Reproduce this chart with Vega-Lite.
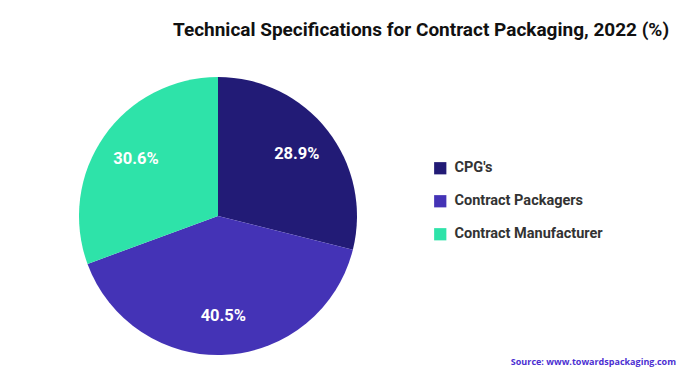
{
  "$schema": "https://vega.github.io/schema/vega-lite/v6.json",
  "background": "white",
  "padding": {"left": 8, "top": 21, "right": 0, "bottom": 0},
  "title": {
    "text": "Technical Specifications for Contract Packaging, 2022 (%)",
    "anchor": "start",
    "frame": "bounds",
    "dx": 165,
    "offset": 37,
    "font": "Roboto",
    "fontSize": 19,
    "fontWeight": "bold",
    "color": "#111111"
  },
  "vconcat": [
    {
      "width": 420,
      "height": 278,
      "title": {
        "text": "Source: www.towardspackaging.com",
        "orient": "bottom",
        "anchor": "end",
        "frame": "group",
        "dx": 248,
        "offset": 3,
        "font": "Open Sans",
        "fontSize": 9,
        "fontWeight": "bold",
        "color": "#4b2fd2"
      },
      "data": {
        "values": [
          {"segment": "CPG's", "value": 28.9, "label": "28.9%", "rank": 1},
          {"segment": "Contract Packagers", "value": 40.5, "label": "40.5%", "rank": 2},
          {"segment": "Contract Manufacturer", "value": 30.6, "label": "30.6%", "rank": 3}
        ]
      },
      "encoding": {
        "theta": {"field": "value", "type": "quantitative", "stack": true},
        "order": {"field": "rank", "type": "quantitative"},
        "color": {
          "field": "segment",
          "type": "nominal",
          "scale": {
            "domain": ["CPG's", "Contract Packagers", "Contract Manufacturer"],
            "range": ["#221b76", "#4433b6", "#2ee3a9"]
          },
          "legend": {
            "title": null,
            "orient": "none",
            "legendX": 425,
            "legendY": 84,
            "symbolType": "square",
            "symbolSize": 150,
            "symbolStrokeWidth": 0,
            "labelFont": "Roboto",
            "labelFontSize": 14.5,
            "labelFontWeight": "bold",
            "labelColor": "#333333",
            "labelOffset": 7,
            "rowPadding": 18,
            "padding": 0
          }
        }
      },
      "layer": [
        {"mark": {"type": "arc", "outerRadius": 139}},
        {
          "mark": {"type": "text", "radius": 100, "fill": "white", "font": "Roboto", "fontSize": 16.5, "fontWeight": "bold"},
          "encoding": {"text": {"field": "label", "type": "nominal"}, "color": {"value": "white"}}
        }
      ]
    }
  ],
  "config": {"view": {"stroke": null}, "concat": {"spacing": 0}}
}
